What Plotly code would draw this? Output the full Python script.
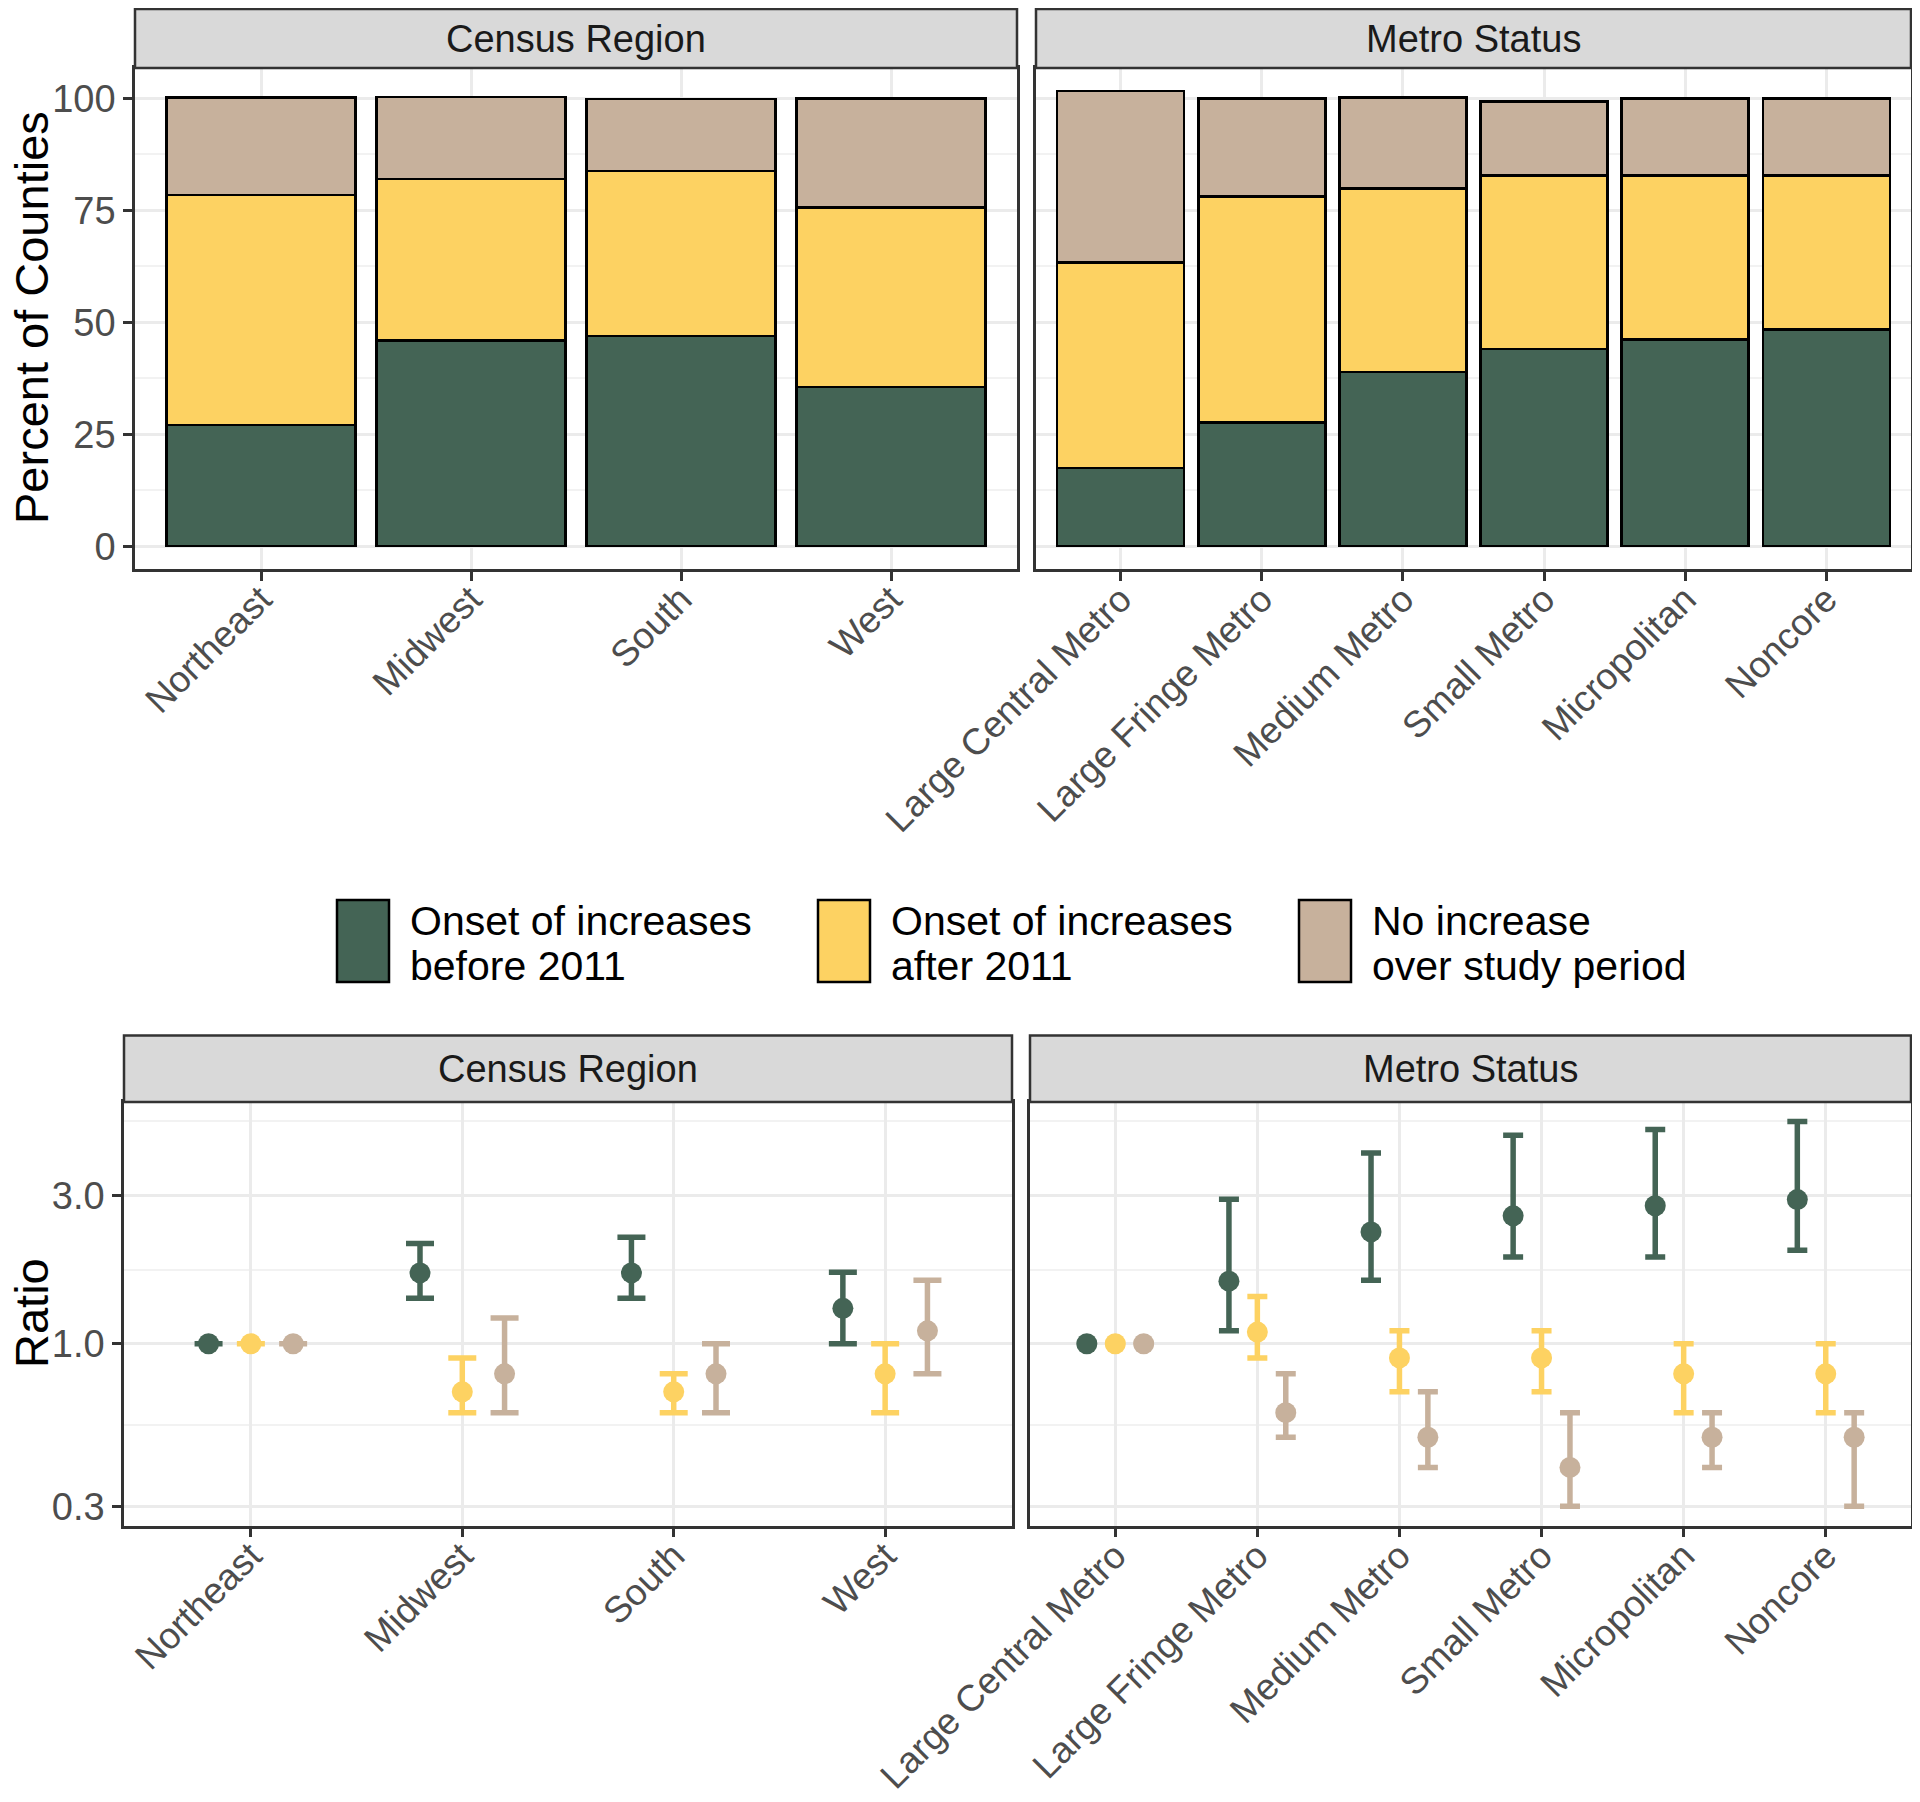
import plotly.graph_objects as go

PAD = 8  # the page adds an 8px body margin around the figure
W, H = 1920 - 2 * PAD, 1802 - 2 * PAD

# categories
regions = ["Northeast", "Midwest", "South", "West"]
metros = ["Large Central Metro", "Large Fringe Metro", "Medium Metro",
          "Small Metro", "Micropolitan", "Noncore"]
groups = [("Onset of increases", "before 2011"),
          ("Onset of increases", "after 2011"),
          ("No increase", "over study period")]
colors = ["#446455", "#FDD262", "#C7B19C"]

# percent of counties (stacked)
region_before = [27.1, 45.9, 46.9, 35.6]
region_after = [51.3, 36.1, 36.9, 40.1]
region_none = [21.8, 18.3, 16.1, 24.3]
metro_before = [17.5, 27.6, 38.9, 44.1, 46.2, 48.4]
metro_after = [45.9, 50.5, 41.0, 38.7, 36.6, 34.4]
metro_none = [38.3, 21.9, 20.3, 16.5, 17.2, 17.2]

# ratios with confidence limits
region_ratio = [[1.0, 1.69, 1.69, 1.30],
                [1.0, 0.70, 0.70, 0.80],
                [1.0, 0.80, 0.80, 1.10]]
region_lo = [[1.0, 1.40, 1.40, 1.00],
             [1.0, 0.60, 0.60, 0.60],
             [1.0, 0.60, 0.60, 0.80]]
region_hi = [[1.0, 2.10, 2.20, 1.70],
             [1.0, 0.90, 0.80, 1.00],
             [1.0, 1.21, 1.00, 1.60]]
metro_ratio = [[1.0, 1.59, 2.29, 2.58, 2.78, 2.91],
               [1.0, 1.09, 0.90, 0.90, 0.80, 0.80],
               [1.0, 0.60, 0.50, 0.40, 0.50, 0.50]]
metro_lo = [[1.0, 1.10, 1.60, 1.90, 1.90, 2.00],
            [1.0, 0.90, 0.70, 0.70, 0.60, 0.60],
            [1.0, 0.50, 0.40, 0.30, 0.40, 0.30]]
metro_hi = [[1.0, 2.92, 4.11, 4.69, 4.89, 5.19],
            [1.0, 1.42, 1.10, 1.10, 1.00, 1.00],
            [1.0, 0.80, 0.70, 0.60, 0.60, 0.60]]

dodge = [-0.2, 0.0, 0.2]
FONT = "Liberation Sans, Arial, sans-serif"


# page pixel -> paper coordinate
def px_x(v):
    return (v - PAD) / W


def px_y(v):
    return 1 - (v - PAD) / H


RIGHT = 1911  # right edge of the right-hand panels (kept inside the page)

fig = go.Figure()

# top: stacked bars
for vals, col in zip([region_before, region_after, region_none], colors):
    fig.add_trace(go.Bar(x=regions, y=vals, marker_color=col, width=0.9,
                         marker_line=dict(color="black", width=2.5),
                         xaxis="x", yaxis="y", showlegend=False))
for vals, col in zip([metro_before, metro_after, metro_none], colors):
    fig.add_trace(go.Bar(x=metros, y=vals, marker_color=col, width=0.9,
                         marker_line=dict(color="black", width=2.5),
                         xaxis="x2", yaxis="y2", showlegend=False))

# bottom: ratios with error bars
for k in range(3):
    y = region_ratio[k]
    fig.add_trace(go.Scatter(
        x=[i + dodge[k] for i in range(len(regions))], y=y, mode="markers",
        marker=dict(color=colors[k], size=21),
        error_y=dict(type="data", symmetric=False,
                     array=[h - v for h, v in zip(region_hi[k], y)],
                     arrayminus=[v - l for v, l in zip(y, region_lo[k])],
                     color=colors[k], thickness=5.5, width=14),
        xaxis="x3", yaxis="y3", showlegend=False))
    y = metro_ratio[k]
    fig.add_trace(go.Scatter(
        x=[i + dodge[k] for i in range(len(metros))], y=y, mode="markers",
        marker=dict(color=colors[k], size=21),
        error_y=dict(type="data", symmetric=False,
                     array=[h - v for h, v in zip(metro_hi[k], y)],
                     arrayminus=[v - l for v, l in zip(y, metro_lo[k])],
                     color=colors[k], thickness=5.5, width=10),
        xaxis="x4", yaxis="y4", showlegend=False))

ax = dict(showline=True, linecolor="#333333", linewidth=2.5, mirror=True,
          showgrid=True, gridcolor="#EBEBEB", gridwidth=2.5, zeroline=False,
          ticks="outside", ticklen=9, tickwidth=2.5, tickcolor="#333333",
          automargin=False,
          tickfont=dict(size=38, color="#4D4D4D", family=FONT))
xa = dict(ax, tickangle=-45, ticklabelstandoff=-18,
          tickfont=dict(size=37, color="#4D4D4D", family=FONT))

top_y = [px_y(569), px_y(68)]
bot_y = [px_y(1525.5), px_y(1102)]
ybar = dict(range=[-5.09, 106.8], tickvals=[0, 25, 50, 75, 100],
            minor=dict(tickvals=[12.5, 37.5, 62.5, 87.5], showgrid=True,
                       gridcolor="#F2F2F2", gridwidth=1.5))
yrat = dict(type="log", range=[-0.585, 0.778], tickvals=[0.3, 1, 3],
            ticktext=["0.3", "1.0", "3.0"],
            minor=dict(tickvals=[0.548, 1.732, 5.196], showgrid=True,
                       gridcolor="#F2F2F2", gridwidth=1.5))

fig.update_layout(
    width=W, height=H, margin=dict(l=0, r=0, t=0, b=0),
    paper_bgcolor="white", plot_bgcolor="white", barmode="stack",
    font=dict(family=FONT),
    xaxis=dict(xa, domain=[px_x(135), px_x(1017)], anchor="y",
               range=[-0.6, 3.6]),
    yaxis=dict(ax, **ybar, domain=top_y, anchor="x"),
    xaxis2=dict(xa, domain=[px_x(1036), px_x(RIGHT)], anchor="y2",
                range=[-0.6, 5.6]),
    yaxis2=dict(ax, **ybar, domain=top_y, anchor="x2",
                showticklabels=False, ticks=""),
    xaxis3=dict(xa, domain=[px_x(124), px_x(1012)], anchor="y3",
                range=[-0.6, 3.6],
                tickvals=list(range(len(regions))), ticktext=regions),
    yaxis3=dict(ax, **yrat, domain=bot_y, anchor="x3"),
    xaxis4=dict(xa, domain=[px_x(1030), px_x(RIGHT)], anchor="y4",
                range=[-0.6, 5.6],
                tickvals=list(range(len(metros))), ticktext=metros),
    yaxis4=dict(ax, **yrat, domain=bot_y, anchor="x4",
                showticklabels=False, ticks=""),
)

# reference line at ratio 1
for xr, yr in [("x3", "y3"), ("x4", "y4")]:
    fig.add_shape(type="line", xref=f"{xr} domain", yref=yr, x0=0, x1=1,
                  y0=1, y1=1, line=dict(color="#5A5A5A", width=2.5),
                  layer="below")

# facet strips
strips = [(135, 1017, 9, 68, "Census Region"),
          (1036, RIGHT, 9, 68, "Metro Status"),
          (124, 1012, 1035.5, 1102, "Census Region"),
          (1030, RIGHT, 1035.5, 1102, "Metro Status")]
for x0, x1, y0, y1, label in strips:
    fig.add_shape(type="rect", xref="paper", yref="paper",
                  x0=px_x(x0), x1=px_x(x1), y0=px_y(y1), y1=px_y(y0),
                  fillcolor="#D9D9D9", line=dict(color="#333333", width=2.5))
    fig.add_annotation(x=px_x((x0 + x1) / 2), y=px_y((y0 + y1) / 2),
                       xref="paper", yref="paper", text=label,
                       showarrow=False, xanchor="center", yanchor="middle",
                       font=dict(size=38, color="#1A1A1A"))

# y-axis titles
for label, yc in [("Percent of Counties", 318), ("Ratio", 1313)]:
    fig.add_annotation(x=px_x(31), y=px_y(yc), xref="paper", yref="paper",
                       text=label, textangle=-90, showarrow=False,
                       xanchor="center", yanchor="middle",
                       font=dict(size=47, color="black"))

# legend
legend_x = [337, 818, 1299]
for lx, (line1, line2), col in zip(legend_x, groups, colors):
    fig.add_shape(type="rect", xref="paper", yref="paper",
                  x0=px_x(lx), x1=px_x(lx + 52), y0=px_y(982), y1=px_y(900),
                  fillcolor=col, line=dict(color="black", width=2.5))
    for text, ly in [(line1, 921), (line2, 966)]:
        fig.add_annotation(x=px_x(lx + 71), y=px_y(ly), xref="paper",
                           yref="paper", text=text, showarrow=False,
                           xanchor="left", yanchor="middle", align="left",
                           font=dict(size=41, color="black"))

fig.write_html("out.html")
